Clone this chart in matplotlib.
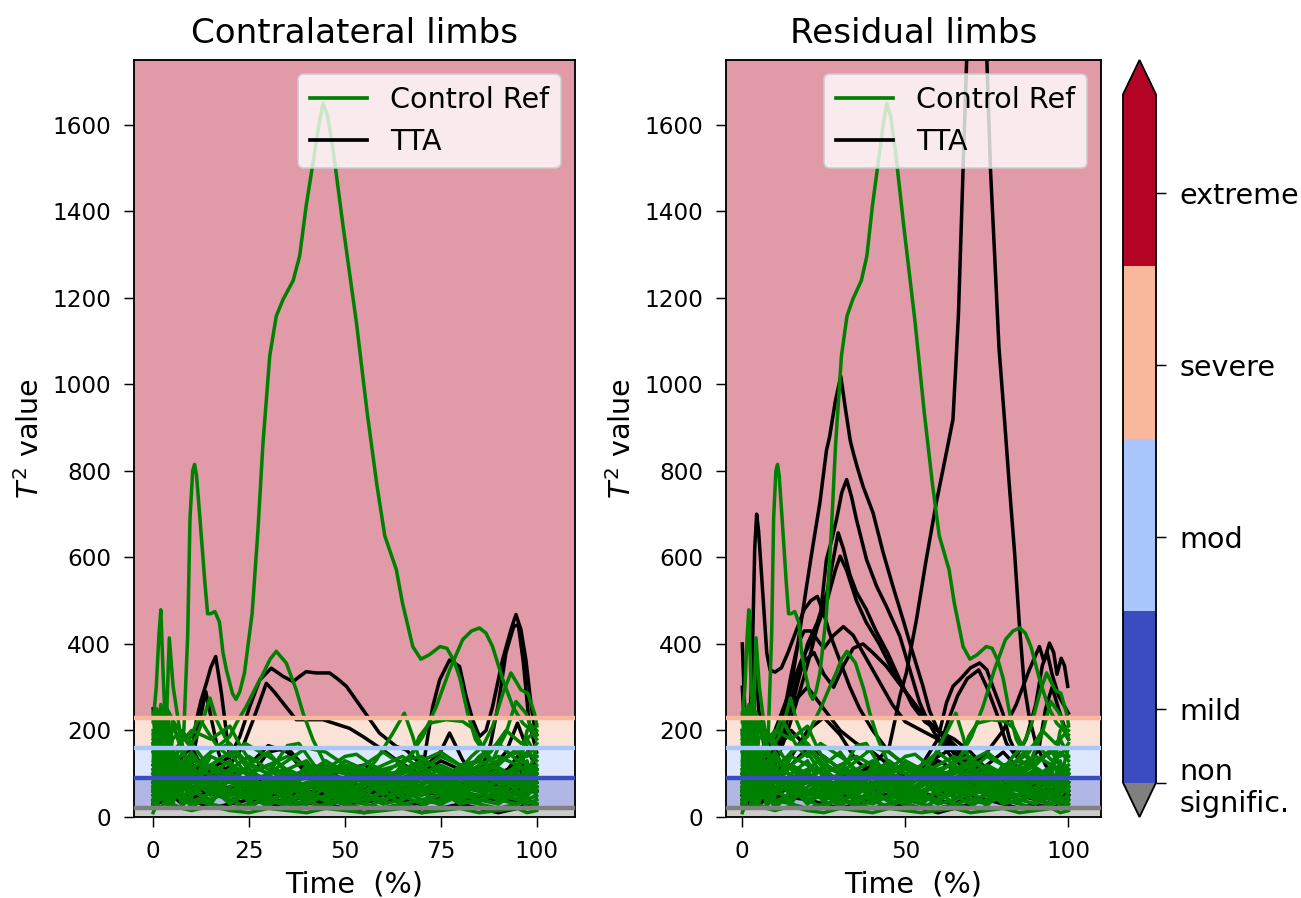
import matplotlib.pyplot as plt
from matplotlib.colors import ListedColormap, BoundaryNorm
from matplotlib.cm import ScalarMappable
from matplotlib.lines import Line2D

# ---------------- severity bands ----------------
thresholds = [0, 20, 90, 160, 230, 1750]
band_colors = ['#808080', '#3b4cc0', '#aac7fd', '#f7b89c', '#b40426']
cbar_bounds = [20, 90, 160, 230, 300]
cbar_ticks = [20, 50, 120, 190, 260]
cbar_labels = ['non\nsignific.', 'mild', 'mod', 'severe', 'extreme']

# common time grid for the low "clutter" curves
t = [0, 1, 2, 3, 4, 5, 7.5, 10, 15, 20, 25, 30, 35, 40, 45, 50, 55, 60, 65, 70, 75, 80, 85, 90, 95, 97.5, 100]

# ---------------- Control Ref (same in both panels) ----------------
ref_main_x = [0, 2, 4, 6, 8, 9, 9.6, 10.3, 10.8, 11.3, 12.2, 13.5, 14.2, 15, 16.1, 17.3, 18.2, 19.1, 20.7,
              21.6, 22.6, 23.8, 25.8, 27.3, 28.6, 30.4, 32.1, 33.9, 36.5, 38.2, 39.9, 41.7, 43.2, 44.3, 45.5,
              46.9, 49.5, 53, 55.8, 58.3, 60.4, 63.4, 65, 67.7, 69.8, 72, 74.8, 76.6, 78.5, 80, 82, 84, 87,
              90, 93, 96, 100]
ref_main_y = [60, 110, 90, 140, 200, 420, 690, 800, 815, 790, 690, 540, 470, 470, 475, 450, 380, 340, 285,
              272, 290, 333, 470, 660, 860, 1066, 1158, 1197, 1240, 1297, 1413, 1514, 1600, 1650, 1620,
              1544, 1367, 1143, 935, 770, 650, 572, 495, 394, 365, 375, 394, 390, 360, 320, 240, 180, 140,
              110, 95, 90, 100]

ref_spike_x = [0, 0.8, 1.5, 2.0, 2.6, 3.3, 4.2, 5.2, 6.5, 8, 10, 12, 15, 20, 25, 30, 35, 40, 45, 50, 55, 60,
               65, 70, 75, 80, 85, 90, 95, 100]
ref_spike_y = [220, 300, 420, 479, 330, 180, 414, 302, 225, 140, 110, 90, 120, 80, 90, 70, 60, 80, 70, 60,
               80, 90, 70, 60, 80, 100, 70, 60, 80, 90]

ref_b32_x = [0, 5, 10, 15, 20, 21.7, 24.3, 26.9, 28.6, 30.5, 32.1, 34.7, 37.3, 39.1, 41.7, 44.3, 48, 52, 56,
             60, 65, 70, 75, 80, 85, 90, 95, 100]
ref_b32_y = [90, 140, 110, 150, 186, 217, 256, 302, 330, 365, 383, 356, 294, 240, 178, 132, 115, 120, 100,
             90, 110, 95, 80, 100, 110, 90, 120, 100]

ref_b85_x = [0, 5, 10, 20, 30, 40, 50, 55, 60, 63, 66.8, 70.3, 73.8, 77.3, 80.7, 83, 85.1, 86.8, 88.5, 91.2,
             93.8, 96.4, 99.4, 100]
ref_b85_y = [70, 120, 90, 60, 80, 100, 70, 60, 80, 100, 140, 186, 255, 340, 410, 430, 437, 425, 394, 317,
             255, 217, 194, 190]

ref_b93_x = [0, 5, 10, 20, 30, 40, 50, 60, 70, 75, 80, 83, 85.9, 88.5, 91.2, 93.3, 95.9, 97.7, 99.4, 100]
ref_b93_y = [110, 60, 130, 100, 70, 90, 120, 80, 100, 90, 110, 140, 163, 209, 286, 333, 294, 286, 240, 215]

ref_b95_x = [0, 10, 20, 30, 40, 50, 60, 70, 80, 85, 88, 90, 92, 94.6, 97.2, 99.4, 100]
ref_b95_y = [60, 80, 50, 60, 40, 50, 70, 60, 50, 80, 120, 160, 194, 267, 240, 186, 180]

ref_plat_x = [0, 5, 10, 20, 30, 40, 50, 55, 60, 64, 67.7, 69.4, 72.1, 76.4, 80.7, 83.3, 85.9, 89.4, 93, 96, 100]
ref_plat_y = [40, 90, 60, 110, 90, 70, 80, 100, 110, 120, 147, 186, 217, 225, 221, 205, 163, 117, 100, 130, 110]

ref_b65_x = [0, 10, 20, 30, 40, 45, 50, 55, 58.2, 60.5, 62.5, 65.5, 67.7, 69.4, 72, 76, 80, 85, 90, 95, 100]
ref_b65_y = [100, 60, 90, 70, 110, 90, 80, 100, 132, 165, 194, 240, 186, 132, 100, 80, 70, 90, 110, 80, 60]

ref_b15_x = [0, 3, 6, 9, 11.3, 13, 14.8, 16.5, 19.1, 20.8, 24, 28, 32, 36, 40, 45, 50, 60, 70, 80, 90, 100]
ref_b15_y = [150, 90, 130, 160, 186, 225, 275, 225, 178, 155, 120, 90, 110, 90, 70, 80, 60, 90, 70, 60, 80, 70]

ref_w1_x = [0, 5, 10, 15, 20, 23, 26, 30, 35, 38, 42, 46, 50, 55, 60, 65, 70, 75, 80, 85, 90, 95, 100]
ref_w1_y = [100, 150, 200, 180, 210, 160, 120, 100, 165, 170, 120, 100, 130, 110, 90, 100, 130, 150, 120,
            100, 130, 150, 140]

ref_w2_x = [0, 3, 6, 9, 12, 14, 17, 20, 24, 28, 32, 36, 40, 45, 50, 53, 57, 62, 66, 70, 73, 78, 83, 88, 92,
            96, 100]
ref_w2_y = [180, 260, 210, 170, 230, 200, 160, 140, 170, 150, 130, 100, 90, 110, 140, 145, 120, 100, 110,
            130, 120, 100, 120, 150, 200, 170, 200]

ref_low = [
    [120, 180, 90, 60, 140, 110, 70, 50, 80, 60, 40, 55, 70, 50, 45, 60, 50, 40, 55, 70, 60, 45, 50, 70, 90, 60, 80],
    [60, 250, 150, 80, 200, 90, 60, 100, 70, 90, 110, 80, 60, 70, 90, 80, 60, 75, 90, 70, 50, 60, 80, 100, 70, 120, 100],
    [30, 90, 200, 120, 70, 160, 100, 80, 120, 100, 70, 60, 90, 110, 100, 90, 110, 100, 80, 60, 90, 110, 95, 80, 110, 150, 130],
    [200, 100, 60, 240, 130, 70, 120, 150, 90, 60, 80, 100, 110, 90, 70, 50, 40, 60, 80, 100, 120, 100, 70, 60, 50, 70, 90],
    [80, 140, 260, 90, 50, 220, 150, 110, 60, 40, 50, 70, 40, 30, 50, 70, 90, 80, 60, 40, 30, 50, 40, 30, 60, 40, 50],
    [150, 60, 120, 180, 90, 130, 80, 60, 140, 120, 100, 120, 140, 120, 110, 100, 80, 90, 110, 130, 110, 90, 120, 140, 120, 100, 110],
    [40, 80, 50, 110, 170, 60, 40, 30, 40, 70, 90, 60, 50, 80, 60, 40, 60, 70, 50, 30, 40, 60, 80, 50, 40, 30, 40],
    [100, 200, 120, 70, 100, 180, 200, 170, 110, 80, 120, 150, 100, 90, 120, 110, 100, 120, 140, 110, 90, 80, 100, 120, 160, 140, 170],
    [20, 50, 100, 70, 40, 80, 50, 40, 30, 20, 30, 40, 30, 20, 30, 40, 30, 20, 30, 40, 50, 40, 30, 20, 30, 40, 30],
    [170, 110, 80, 150, 230, 100, 70, 90, 50, 100, 70, 30, 60, 100, 80, 70, 100, 110, 90, 80, 100, 70, 60, 90, 100, 80, 60],
    [60, 120, 170, 100, 60, 90, 130, 60, 100, 130, 60, 90, 70, 60, 100, 120, 80, 60, 70, 90, 70, 120, 130, 110, 80, 110, 120],
    [90, 40, 70, 130, 80, 50, 90, 120, 60, 50, 100, 120, 90, 70, 60, 80, 110, 90, 100, 120, 80, 100, 90, 60, 120, 180, 140],
    [130, 220, 100, 50, 90, 140, 60, 80, 150, 170, 120, 100, 130, 160, 150, 120, 90, 70, 90, 110, 140, 120, 110, 130, 150, 120, 100],
    [50, 30, 60, 90, 120, 70, 100, 60, 40, 60, 50, 30, 40, 60, 40, 30, 20, 40, 60, 50, 70, 90, 60, 40, 30, 50, 70],
    [240, 130, 60, 100, 150, 80, 110, 140, 90, 110, 140, 110, 80, 100, 130, 100, 120, 150, 120, 90, 60, 90, 140, 170, 130, 90, 160],
    [70, 160, 110, 200, 60, 120, 170, 90, 120, 150, 90, 70, 110, 130, 70, 60, 70, 100, 130, 140, 100, 60, 50, 90, 100, 200, 210],
    [110, 70, 140, 60, 100, 40, 60, 20, 60, 40, 20, 50, 20, 40, 20, 50, 30, 60, 30, 20, 60, 30, 40, 60, 40, 90, 70],
    [10, 30, 20, 40, 20, 30, 20, 15, 25, 15, 10, 20, 15, 10, 20, 15, 10, 15, 20, 10, 15, 20, 10, 15, 20, 10, 15],
    [35, 70, 130, 40, 90, 30, 80, 110, 70, 30, 60, 20, 80, 35, 70, 25, 55, 30, 85, 60, 25, 75, 35, 55, 80, 45, 100],
    [190, 80, 40, 170, 60, 150, 40, 70, 30, 90, 40, 80, 30, 60, 35, 90, 50, 30, 40, 75, 90, 35, 90, 40, 70, 130, 40],
    [60, 20, 110, 30, 60, 100, 25, 50, 100, 30, 75, 45, 100, 40, 90, 55, 40, 100, 40, 60, 30, 100, 70, 110, 60, 20, 30],
    [25, 110, 40, 80, 25, 45, 120, 35, 55, 110, 30, 100, 60, 120, 55, 30, 85, 50, 110, 90, 110, 50, 120, 30, 100, 60, 110],
]

# ---------------- TTA, contralateral limbs ----------------
tta_c16_x = [0, 3, 6, 8, 10, 11.3, 12.5, 13.9, 15, 16.3, 17.8, 19.1, 20, 22, 25, 30, 35, 40, 50, 60, 70, 80, 90, 100]
tta_c16_y = [120, 80, 60, 90, 147, 225, 270, 310, 345, 371, 286, 194, 132, 90, 70, 60, 50, 60, 40, 50, 60, 40, 50, 60]

tta_c14_x = [0, 4, 8, 10, 12.2, 13.7, 15.6, 17, 19, 22, 26, 30, 36, 42, 50, 60, 70, 80, 90, 100]
tta_c14_y = [40, 100, 70, 120, 225, 290, 209, 150, 100, 70, 90, 60, 40, 50, 30, 40, 30, 50, 40, 30]

tta_cbr_x = [0, 5, 10, 15, 20, 22.6, 25.2, 27.8, 30.8, 33.9, 36.5, 38.2, 39.9, 42.5, 46, 48, 50.4, 54.7, 59,
             63.4, 66, 68.6, 72.1, 76, 80, 85, 90, 95, 100]
tta_cbr_y = [100, 60, 80, 110, 140, 186, 256, 317, 344, 325, 313, 325, 336, 333, 333, 320, 302, 248, 194,
             163, 155, 132, 113, 100, 90, 80, 100, 70, 60]

tta_cmid_x = [0, 5, 10, 15, 20, 23.4, 26.1, 29.5, 31.5, 33.9, 37.3, 40.8, 44.3, 47.7, 51.2, 54.7, 59.9, 63.4,
              67.7, 72, 76, 80, 85, 90, 95, 100]
tta_cmid_y = [80, 130, 100, 70, 120, 163, 225, 309, 290, 263, 225, 225, 225, 215, 205, 186, 155, 132,
              109, 90, 80, 100, 90, 70, 60, 80]

tta_ce1_x = [0, 10, 20, 30, 40, 50, 60, 65, 68, 70.3, 71.6, 72.9, 74.7, 77.3, 79.9, 81.6, 83.3, 85.1, 86.8,
             88.5, 91.1, 93.3, 94.6, 95.9, 97.2, 98.5, 99.4, 100]
tta_ce1_y = [50, 70, 40, 60, 50, 70, 60, 50, 70, 109, 186, 255, 317, 363, 348, 279, 225, 186, 200,
             255, 363, 433, 468, 433, 363, 263, 209, 190]

tta_ce2_x = [0, 10, 20, 30, 40, 50, 60, 70, 80, 84, 86, 88, 90, 92, 94, 95.2, 96.5, 98, 100]
tta_ce2_y = [30, 50, 60, 40, 30, 50, 40, 60, 70, 90, 120, 170, 260, 380, 440, 445, 360, 220, 150]

tta_c78_x = [0, 10, 20, 30, 40, 50, 60, 65, 70, 74.7, 77.3, 80.7, 84, 88, 92, 95, 97, 100]
tta_c78_y = [60, 40, 70, 50, 60, 40, 70, 90, 110, 147, 194, 132, 90, 110, 150, 217, 170, 110]

tta_c_low = [
    [250, 150, 80, 200, 120, 60, 100, 70, 60, 50, 80, 90, 70, 110, 120, 100, 90, 80, 70, 60, 80, 100, 70, 60, 90, 110, 80],
    [170, 60, 150, 90, 50, 130, 80, 120, 100, 60, 90, 150, 160, 110, 90, 80, 70, 90, 110, 100, 90, 110, 130, 100, 120, 90, 60],
    [30, 100, 60, 40, 80, 50, 30, 40, 20, 30, 40, 30, 20, 40, 30, 20, 10, 20, 30, 10, 20, 30, 20, 10, 20, 30, 20],
    [90, 130, 230, 140, 70, 90, 140, 160, 80, 60, 50, 70, 90, 60, 50, 40, 60, 50, 40, 30, 50, 70, 60, 80, 140, 100, 70],
    [60, 80, 100, 70, 90, 110, 130, 120, 100, 80, 120, 165, 150, 100, 90, 110, 120, 100, 80, 100, 130, 110, 90, 100, 120, 80, 60],
]

# ---------------- TTA, residual limbs ----------------
tta_rtall_x = [0, 5, 10, 15, 20, 25, 30, 35, 40, 45, 47, 48.3, 50.3, 53.4, 56.4, 59.5, 62.6, 64.6, 65.5, 66.3,
               67.7, 68.8, 70, 72, 74, 75, 76.1, 77.5, 78.7, 80.4, 81.9, 83.5, 85, 86.5, 88, 90, 93, 96, 100]
tta_rtall_y = [60, 80, 50, 70, 90, 60, 80, 100, 120, 160, 230, 279, 333, 456, 595, 727, 843, 919, 1047, 1165,
               1498, 1750, 1950, 2060, 1950, 1750, 1498, 1280, 1086, 919, 765, 611, 441, 302, 231, 170, 120, 90, 80]

tta_r30_x = [0, 3, 6, 9, 12, 13.6, 16.6, 19.7, 21.6, 23.8, 25.8, 26.8, 28.5, 30.2, 31.5, 33.1, 34, 35.2, 37,
             40.1, 43.2, 46.2, 49.3, 52.3, 55.4, 57.4, 60, 63, 67, 72, 78, 85, 92, 100]
tta_r30_y = [100, 150, 120, 180, 200, 240, 379, 533, 625, 727, 847, 880, 960, 1019, 950, 870, 843, 810, 765,
             703, 611, 533, 456, 379, 302, 246, 200, 170, 120, 90, 70, 80, 60, 70]

tta_r32_x = [0, 5, 10, 14, 18, 21, 24, 25.8, 27.4, 28.9, 30.5, 32, 33.5, 35, 38.1, 41.2, 44.2, 48.3, 52.3,
             54.4, 57, 60, 64, 70, 76, 82, 88, 94, 100]
tta_r32_y = [50, 80, 120, 200, 300, 380, 470, 595, 640, 688, 750, 780, 740, 688, 595, 533, 487, 418, 317,
             264, 220, 180, 140, 100, 90, 70, 90, 60, 50]

tta_r29_x = [0, 5, 10, 15, 20, 23, 26, 28, 29.4, 31, 33, 35, 38, 41, 44.6, 48.3, 52, 56, 60, 65, 70, 75, 80,
             85, 90, 95, 100]
tta_r29_y = [80, 60, 150, 250, 400, 450, 520, 600, 657, 620, 560, 520, 480, 430, 379, 317, 260, 220, 200,
             180, 150, 110, 90, 70, 60, 80, 60]

tta_r30b_x = [0, 5, 10, 15, 18, 22, 26, 28.5, 30, 32, 35, 38, 42, 46, 50, 54, 58, 62, 66, 70, 75, 80, 85, 90,
              95, 100]
tta_r30b_y = [60, 120, 200, 300, 360, 420, 500, 570, 603, 570, 500, 450, 400, 340, 290, 250, 210, 190, 160,
              130, 110, 100, 80, 90, 70, 50]

tta_r4_x = [0, 1, 2, 3, 3.8, 4.4, 5, 5.9, 7.5, 8.5, 10, 12, 14, 17, 19, 21, 23, 25, 27, 30, 33, 36, 40, 45,
            50, 60, 70, 80, 90, 100]
tta_r4_y = [400, 200, 150, 350, 620, 700, 660, 560, 379, 340, 335, 345, 380, 440, 480, 500, 510, 470, 420,
            360, 300, 250, 200, 150, 120, 100, 80, 60, 70, 50]

tta_r17_x = [0, 5, 10, 13, 15, 17, 19, 21, 23, 25, 28, 31, 34, 37, 40, 43, 46, 50, 55, 60, 65, 70, 75, 80,
             85, 90, 95, 100]
tta_r17_y = [50, 80, 150, 250, 330, 400, 430, 430, 410, 390, 420, 440, 420, 380, 340, 300, 260, 220, 200,
             180, 150, 120, 100, 80, 90, 70, 80, 60]

tta_r37_x = [0, 5, 10, 13, 16, 19, 22, 25, 28, 31, 34, 37, 40, 44, 48, 52, 56, 60, 64, 68, 72, 76, 80, 85,
             90, 95, 100]
tta_r37_y = [30, 60, 120, 200, 300, 360, 380, 330, 300, 350, 390, 400, 380, 350, 310, 270, 230, 200, 170,
             140, 120, 110, 100, 90, 70, 60, 50]

tta_rend_x = [0, 10, 20, 30, 40, 50, 60, 70, 75, 80, 84, 88, 91.1, 92.5, 94.2, 95.5, 96.5, 97.8, 98.8, 99.8]
tta_rend_y = [40, 60, 80, 70, 90, 80, 100, 110, 150, 200, 260, 340, 394, 360, 402, 380, 330, 367, 350, 302]

tta_r73_x = [0, 10, 20, 30, 40, 50, 55, 60, 62.6, 64.6, 67, 70, 72.8, 75, 76.8, 79.9, 82, 85, 88, 91, 93,
             95, 97, 100]
tta_r73_y = [20, 50, 40, 60, 80, 70, 120, 180, 264, 302, 320, 345, 356, 340, 302, 240, 180, 130, 120, 160,
             250, 300, 250, 180]

tta_r72_x = [0, 10, 20, 30, 40, 50, 60, 63, 66, 69, 72.5, 75, 78, 81, 84, 87, 90, 92, 93.5, 95, 97, 100]
tta_r72_y = [70, 40, 60, 50, 40, 60, 150, 220, 280, 320, 340, 300, 240, 170, 140, 180, 260, 350, 380, 330,
             280, 240]

tta_r_low = [
    [100, 60, 150, 80, 50, 120, 90, 150, 200, 160, 120, 100, 80, 60, 50, 70, 60, 40, 30, 50, 40, 60, 80, 50, 40, 60, 50],
    [50, 180, 90, 40, 130, 70, 110, 180, 260, 300, 250, 200, 170, 150, 120, 90, 110, 140, 160, 130, 100, 80, 60, 90, 120, 100, 80],
    [200, 100, 60, 110, 80, 40, 60, 100, 140, 200, 230, 190, 130, 100, 80, 60, 40, 50, 70, 90, 120, 150, 110, 70, 50, 40, 60],
    [20, 40, 30, 60, 50, 30, 40, 30, 50, 40, 30, 20, 30, 40, 20, 30, 20, 10, 20, 30, 40, 30, 20, 30, 20, 30, 20],
    [300, 150, 250, 100, 380, 250, 120, 90, 120, 160, 140, 110, 90, 70, 60, 80, 100, 130, 110, 80, 60, 40, 50, 40, 30, 50, 40],
]

ref_curves = [(ref_spike_x, ref_spike_y), (ref_b32_x, ref_b32_y), (ref_b85_x, ref_b85_y),
              (ref_b93_x, ref_b93_y), (ref_b95_x, ref_b95_y), (ref_plat_x, ref_plat_y),
              (ref_b65_x, ref_b65_y), (ref_b15_x, ref_b15_y), (ref_w1_x, ref_w1_y), (ref_w2_x, ref_w2_y)]
ref_curves += [(t, v) for v in ref_low]
ref_curves.append((ref_main_x, ref_main_y))

tta_contra = [(tta_c16_x, tta_c16_y), (tta_c14_x, tta_c14_y), (tta_cbr_x, tta_cbr_y),
              (tta_cmid_x, tta_cmid_y), (tta_ce1_x, tta_ce1_y), (tta_ce2_x, tta_ce2_y),
              (tta_c78_x, tta_c78_y)] + [(t, v) for v in tta_c_low]

tta_resid = [(tta_rtall_x, tta_rtall_y), (tta_r30_x, tta_r30_y), (tta_r32_x, tta_r32_y),
             (tta_r29_x, tta_r29_y), (tta_r30b_x, tta_r30b_y), (tta_r4_x, tta_r4_y),
             (tta_r17_x, tta_r17_y), (tta_r37_x, tta_r37_y), (tta_rend_x, tta_rend_y),
             (tta_r73_x, tta_r73_y), (tta_r72_x, tta_r72_y)] + [(t, v) for v in tta_r_low]

# ====================== FIGURE ======================
DPI = 133
fig = plt.figure(figsize=(1301 / DPI, 898 / DPI), dpi=DPI)
W, H = 1301, 898
ax1 = fig.add_axes([134 / W, 81 / H, 441 / W, 757 / H])
ax2 = fig.add_axes([726 / W, 81 / H, 375 / W, 757 / H])
cax = fig.add_axes([1123 / W, 81 / H, 33 / W, 757 / H])


def draw_panel(ax, tta, title, xticks):
    # coloured severity bands
    for lo, hi, c in zip(thresholds[:-1], thresholds[1:], band_colors):
        ax.axhspan(lo, hi, color=c, alpha=0.4, lw=0, zorder=0)
    for x, y in tta:
        ax.plot(x, y, color='black', lw=1.9, zorder=2)
    for x, y in ref_curves:
        ax.plot(x, y, color='green', lw=1.9, zorder=2)
    # threshold lines
    for lvl, c in zip(thresholds[1:-1], band_colors[:-1]):
        ax.axhline(lvl, color=c, lw=2.4, zorder=3)
    ax.set_xlim(-5, 110)
    ax.set_ylim(0, 1750)
    ax.set_xticks(xticks)
    ax.set_title(title, fontsize=18.5, pad=9)
    ax.set_xlabel('Time  (%)', fontsize=15.5)
    ax.set_ylabel('$T^2$ value', fontsize=15.5)
    ax.tick_params(labelsize=12.5, length=5.5, pad=7)
    for s in ax.spines.values():
        s.set_linewidth(1.0)
    handles = [Line2D([], [], color='green', lw=2), Line2D([], [], color='black', lw=2)]
    ax.legend(handles, ['Control Ref', 'TTA'], loc='upper right', fontsize=15.5)


draw_panel(ax1, tta_contra, 'Contralateral limbs', [0, 25, 50, 75, 100])
draw_panel(ax2, tta_resid, 'Residual limbs', [0, 50, 100])

# colorbar with severity classes
cmap = ListedColormap(band_colors[1:])
cmap.set_under(band_colors[0])
cmap.set_over(band_colors[-1])
norm = BoundaryNorm(cbar_bounds, cmap.N)
cb = fig.colorbar(ScalarMappable(norm=norm, cmap=cmap), cax=cax, extend='both', ticks=cbar_ticks)
cb.minorticks_off()
cb.ax.set_yticklabels(cbar_labels, fontsize=15.5)
cb.ax.tick_params(length=5.5, pad=7)
cb.outline.set_linewidth(1.0)

plt.savefig('out.png', dpi=DPI)
